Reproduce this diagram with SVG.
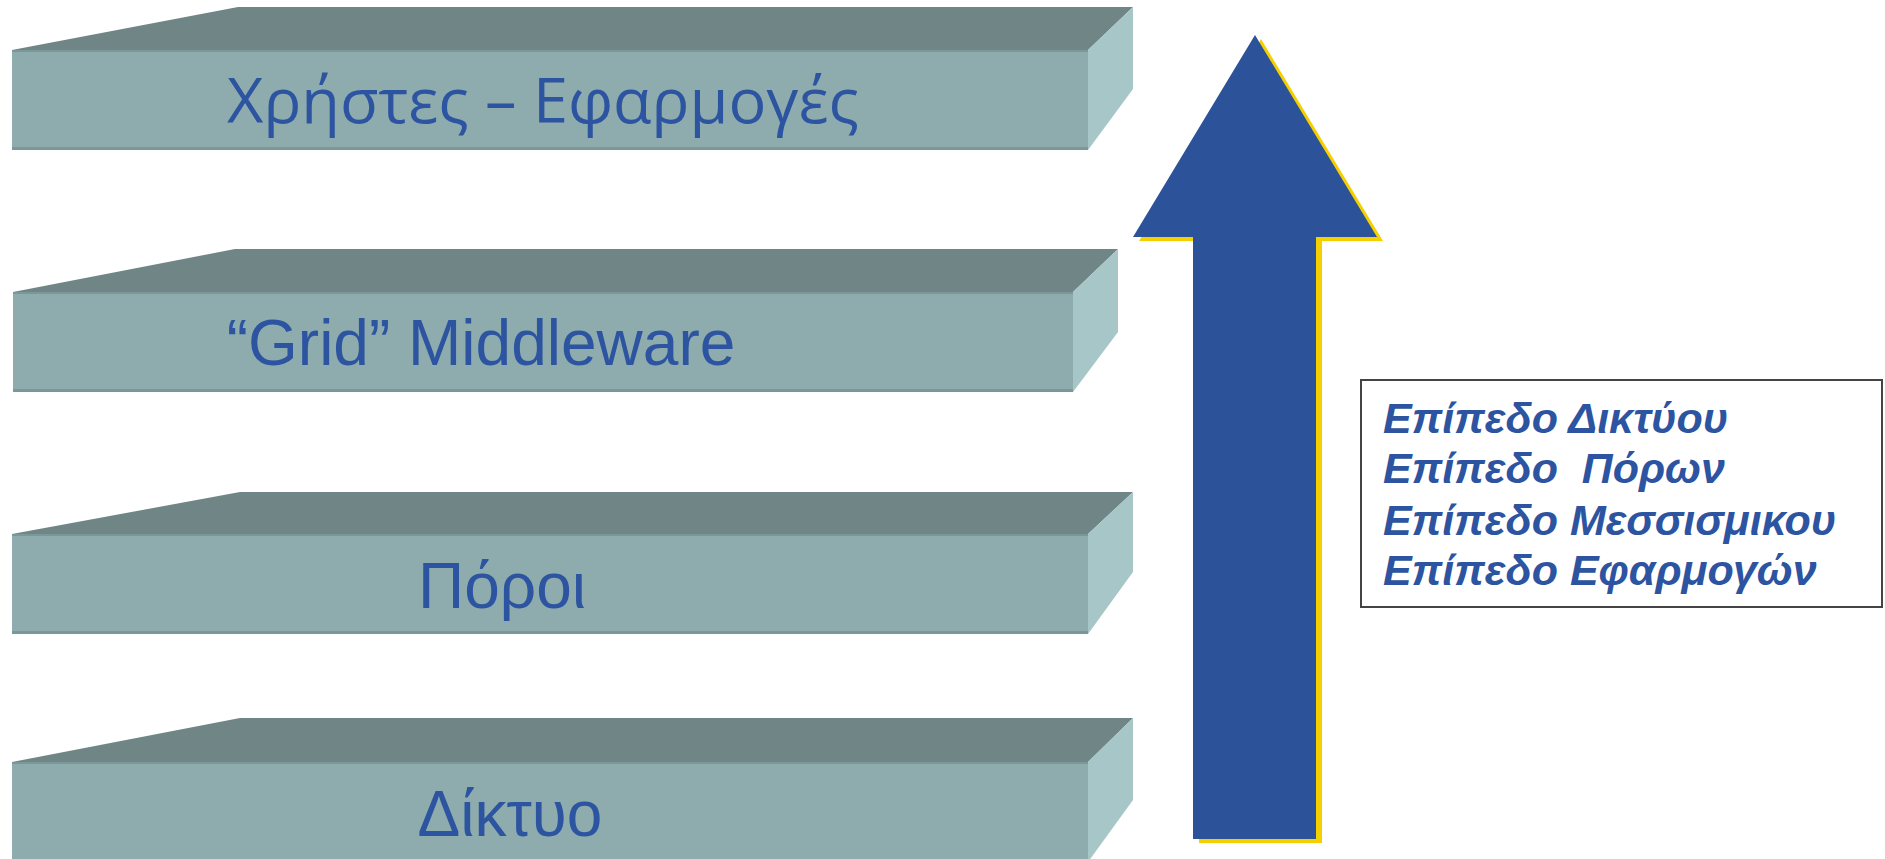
<svg xmlns="http://www.w3.org/2000/svg" width="1885" height="859" viewBox="0 0 1885 859">
<style>
.top{fill:#708585}
.front{fill:#8eacad}
.edge{fill:#7b9899}
.side{fill:#a6c6c8}
.lbl{font-family:"Liberation Sans",Arial,sans-serif;font-size:64px;fill:#2d54a0;text-anchor:middle}
.lbl1{font-family:"Open Sans","Liberation Sans",sans-serif;font-size:63px;fill:#2d54a0;text-anchor:middle}
.box{font-family:"Liberation Sans",Arial,sans-serif;font-size:43px;font-weight:bold;font-style:italic;fill:#2d54a0}
</style>
<rect width="1885" height="859" fill="#ffffff"/>
<g id="layer-users-apps">
<polygon class="top" points="12,50 238,7 1133,7 1088,50"/>
<rect class="front" x="12" y="50" width="1076" height="100" rx="2"/>
<rect class="edge" x="12" y="50" width="1076" height="2"/>
<rect class="edge" x="12" y="147" width="1076" height="3"/>
<polygon class="side" points="1088,50 1133,7 1133,89 1088,150"/>
<text class="lbl1" x="543" y="123">Χρήστες – Εφαρμογές</text>
</g>
<g id="layer-middleware">
<polygon class="top" points="13,292 235,249 1118,249 1073,292"/>
<rect class="front" x="13" y="292" width="1060" height="100" rx="2"/>
<rect class="edge" x="13" y="292" width="1060" height="2"/>
<rect class="edge" x="13" y="389" width="1060" height="3"/>
<polygon class="side" points="1073,292 1118,249 1118,332 1073,392"/>
<text class="lbl" x="481" y="365">“Grid” Middleware</text>
</g>
<g id="layer-resources">
<polygon class="top" points="12,534 240,492 1133,492 1088,534"/>
<rect class="front" x="12" y="534" width="1076" height="100" rx="2"/>
<rect class="edge" x="12" y="534" width="1076" height="2"/>
<rect class="edge" x="12" y="631" width="1076" height="3"/>
<polygon class="side" points="1088,534 1133,492 1133,572 1088,634"/>
<text class="lbl" x="502" y="608">Πόροι</text>
</g>
<g id="layer-network">
<polygon class="top" points="12,762 240,718 1133,718 1088,762"/>
<rect class="front" x="12" y="762" width="1076" height="110" rx="2"/>
<rect class="edge" x="12" y="762" width="1076" height="2"/>
<polygon class="side" points="1088,762 1133,718 1133,800 1088,862"/>
<text class="lbl" x="510" y="836">Δίκτυο</text>
</g>
<g id="connectors">
<polygon points="1261,39 1383,241 1322,241 1322,843 1199,843 1199,241 1139,241" fill="#f5d000"/>
<polygon points="1255,35 1377,237 1316,237 1316,839 1193,839 1193,237 1133,237" fill="#2c5299"/>
</g>
<g id="legend">
<rect x="1361" y="380" width="521" height="227" fill="#ffffff" stroke="#444444" stroke-width="2"/>
<text class="box" x="1383" y="433">Επίπεδο Δικτύου</text>
<text class="box" x="1383" y="483" xml:space="preserve">Επίπεδο  Πόρων</text>
<text class="box" x="1383" y="535">Επίπεδο Μεσσισμικου</text>
<text class="box" x="1383" y="585">Επίπεδο Εφαρμογών</text>
</g>
</svg>
